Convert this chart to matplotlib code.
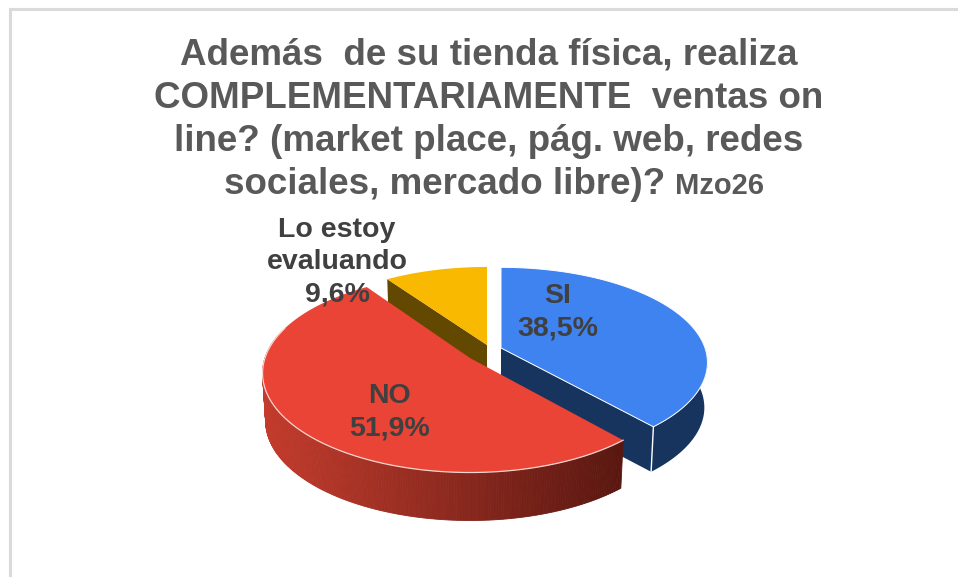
import numpy as np
import matplotlib
matplotlib.use("Agg")
import matplotlib.pyplot as plt
from matplotlib.colors import LinearSegmentedColormap

categories = ["SI", "NO", "Lo estoy\nevaluando"]
values = [38.5, 51.9, 9.6]
title_lines = [
    "Además  de su tienda física, realiza",
    "COMPLEMENTARIAMENTE  ventas on",
    "line? (market place, pág. web, redes",
]
title_last = "sociales, mercado libre)?"
title_small = "Mzo26"

top_colors = ["#3F83F1", "#E94435", "#F8B900"]
side_colors = ["#17345F", None, "#624800"]
text_color = "#404040"
title_color = "#595959"

# layout in pixels of the picture
centers = [(501, 348), (470, 358), (487, 345)]
radii = [(204, 93), (205, 97), (198, 90)]
label_pos = [(558, 312), (390, 412), (337, 262)]
depths = [45, 48, 45]
persp = 0.153


def project(theta, c, r, shrink=1.0, drop=0):
    u = np.sin(theta)
    v = -np.cos(theta)
    w = 1 - persp * v
    return c[0] + shrink * r[0] * u / w, c[1] + drop + r[1] * v / w


def wedge(i, t0, t1):
    th = np.linspace(t0, t1, 200)
    x, y = project(th, centers[i], radii[i])
    return np.r_[centers[i][0], x], np.r_[centers[i][1], y]


def side(i, t0, t1, n=200):
    th = np.linspace(t0, t1, n)
    xt, yt = project(th, centers[i], radii[i])
    xb, yb = project(th, centers[i], radii[i], 0.985, depths[i])
    return xt, yt, xb, yb


plt.rcParams["font.family"] = ["Liberation Sans", "DejaVu Sans"]
plt.rcParams["font.weight"] = "bold"

fig = plt.figure(figsize=(9.58, 5.77), dpi=100)
ax = fig.add_axes([0, 0, 1, 1])
ax.set_xlim(0, 958)
ax.set_ylim(577, 0)
ax.axis("off")

# chart frame, only top and left show
ax.plot([10, 10, 958], [577, 9, 9], color="#DADADA", lw=2.2, solid_joinstyle="miter")

edges = np.r_[0, np.cumsum(values)] / sum(values) * 2 * np.pi
si0, si1 = edges[0], edges[1]
no0, no1 = edges[1], edges[2]
ev0, ev1 = edges[2], edges[3]

# yellow slice, the cut face goes behind the red one
xt, yt = project(np.array([ev0]), centers[2], radii[2])
xb, yb = project(np.array([ev0]), centers[2], radii[2], 0.985, depths[2])
ax.fill([centers[2][0], xt[0], xb[0], centers[2][0]],
        [centers[2][1], yt[0], yb[0], centers[2][1] + depths[2]], color=side_colors[2], lw=0)
ax.fill(*wedge(2, ev0, ev1), color=top_colors[2], lw=0)

# blue slice
xt, yt, xb, yb = side(0, si0 + np.pi / 2 - 0.1, si1)
ax.fill(np.r_[xt, xb[::-1]], np.r_[yt, yb[::-1]], color=side_colors[0], lw=0)
ax.fill([centers[0][0], xt[-1], xb[-1], centers[0][0]],
        [centers[0][1], yt[-1], yb[-1], centers[0][1] + depths[0]], color=side_colors[0], lw=0)
ax.plot([xt[-1], xb[-1]], [yt[-1], yb[-1]], color="white", lw=1)
ax.fill(*wedge(0, si0, si1), facecolor=top_colors[0], edgecolor="white", lw=0.7)

# red slice, its side fades to the right
cmap = LinearSegmentedColormap.from_list("rim", ["#C33B2C", "#8F2A1F", "#591710"])
xt, yt, xb, yb = side(1, no0, no0 + np.radians(150), 240)
lo, hi = xt.min(), xt.max()
for j in range(len(xt) - 1):
    c = cmap((xt[j] - lo) / (hi - lo))
    ax.fill([xt[j], xt[j + 1], xb[j + 1], xb[j]], [yt[j], yt[j + 1], yb[j + 1], yb[j]],
            facecolor=c, edgecolor=c, lw=0.6)
ax.fill(*wedge(1, no0, no1), color=top_colors[1], lw=0)
ax.plot(xt, yt, color="#F6D5D0", lw=0.9)

# data labels
for i, cat in enumerate(categories):
    pct = f"{values[i]:.1f}%".replace(".", ",")
    ax.text(label_pos[i][0], label_pos[i][1], f"{cat}\n{pct}", ha="center", va="center",
            fontsize=20.5, color=text_color, linespacing=1.3)

# title
for y, line in zip([65, 108, 151], title_lines):
    ax.text(489, y, line, ha="center", va="baseline", fontsize=26.5, color=title_color)
ax.text(665, 194, title_last, ha="right", va="baseline", fontsize=26.5, color=title_color)
ax.text(675, 194, title_small, ha="left", va="baseline", fontsize=21, color=title_color)

fig.savefig("out.png", dpi=100)
